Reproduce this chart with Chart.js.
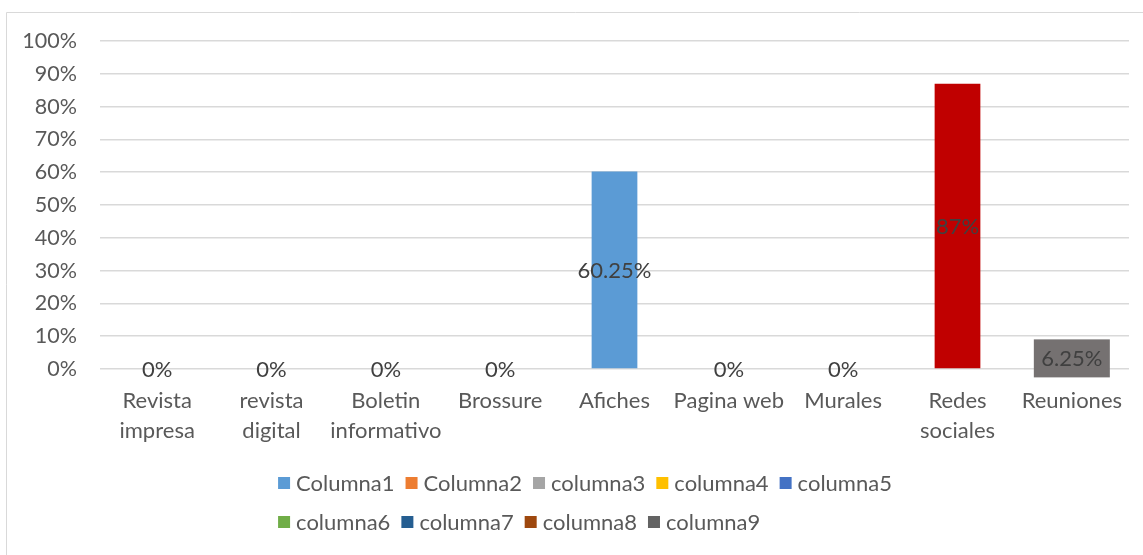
<!DOCTYPE html>
<html>
<head>
<meta charset="utf-8">
<script src="https://cdn.jsdelivr.net/npm/chart.js@4.4.0/dist/chart.umd.min.js"></script>
<style>
  html, body { margin: 0; padding: 0; background: #fff; }
  #wrap { width: 1143px; height: 555px; }
</style>
</head>
<body>
<div id="wrap"><canvas id="myChart" width="1143" height="555"></canvas></div>
<script>
// datos del grafico
const categories = [['Revista', 'impresa'], ['revista', 'digital'], ['Boletin', 'informativo'], 'Brossure', 'Afiches', 'Pagina web', 'Murales', ['Redes', 'sociales'], 'Reuniones'];
const values = [0, 0, 0, 0, 60.25, 0, 0, 87, 6.25];
const valueLabels = ['0%', '0%', '0%', '0%', '60.25%', '0%', '0%', '87%', '6.25%'];
const barColors = ['#5B9BD5', '#ED7D31', '#A5A5A5', '#FFC000', '#5B9BD5', '#70AD47', '#255E91', '#C00000', '#636363'];
const labelBoxColors = [null, null, null, null, null, null, null, null, '#757171'];
const seriesNames = ['Columna1', 'Columna2', 'columna3', 'columna4', 'columna5', 'columna6', 'columna7', 'columna8', 'columna9'];
const seriesColors = ['#5B9BD5', '#ED7D31', '#A5A5A5', '#FFC000', '#4472C4', '#70AD47', '#255E91', '#9E480E', '#636363'];
const yTickValues = [0, 10, 20, 30, 40, 50, 60, 70, 80, 90, 100];

const FONT = 'Lato, "Open Sans", sans-serif';
const FONT_SIZE = 22;
Chart.defaults.font.family = FONT;
Chart.defaults.font.size = FONT_SIZE;
Chart.defaults.color = '#595959';

// marco gris alrededor del grafico
const framePlugin = {
  id: 'frame',
  beforeDraw(chart) {
    const ctx = chart.ctx;
    ctx.save();
    ctx.fillStyle = '#fff';
    ctx.fillRect(0, 0, chart.width, chart.height);
    ctx.strokeStyle = '#d9d9d9';
    ctx.lineWidth = 1;
    ctx.beginPath();
    ctx.moveTo(6.5, chart.height + 2);
    ctx.lineTo(6.5, 12.5);
    ctx.lineTo(chart.width + 2, 12.5);
    ctx.stroke();
    ctx.restore();
  }
};

// etiquetas de datos en el centro de cada barra
const dataLabelPlugin = {
  id: 'dataLabels',
  afterDatasetsDraw(chart) {
    const ctx = chart.ctx;
    const meta = chart.getDatasetMeta(0);
    ctx.save();
    ctx.font = FONT_SIZE + 'px ' + FONT;
    ctx.textAlign = 'center';
    ctx.textBaseline = 'middle';
    meta.data.forEach((bar, i) => {
      const y = (bar.y + bar.base) / 2;
      if (labelBoxColors[i]) {
        ctx.fillStyle = labelBoxColors[i];
        ctx.fillRect(bar.x - 38, y - 19, 76, 38);
      }
      ctx.fillStyle = '#404040';
      ctx.fillText(valueLabels[i], bar.x, y + 1);
    });
    ctx.restore();
  }
};

// leyenda (dos filas alineadas a la izquierda como en Excel)
const legendPlugin = {
  id: 'customLegend',
  afterDraw(chart) {
    const ctx = chart.ctx;
    ctx.save();
    ctx.font = FONT_SIZE + 'px ' + FONT;
    ctx.textBaseline = 'middle';
    const box = 12, gapText = 6, gapItem = 11;
    const rows = [seriesNames.slice(0, 5), seriesNames.slice(5)];
    const widths = seriesNames.map(n => box + gapText + ctx.measureText(n).width);
    const row1 = widths.slice(0, 5).reduce((a, b) => a + b, 0) + gapItem * 4;
    const startX = 585 - row1 / 2;
    const rowY = [483, 522];
    let idx = 0;
    rows.forEach((row, r) => {
      let x = startX;
      row.forEach(name => {
        ctx.fillStyle = seriesColors[idx];
        ctx.fillRect(x, rowY[r] - box / 2, box, box);
        ctx.fillStyle = '#595959';
        ctx.fillText(name, x + box + gapText, rowY[r] + 1);
        x += widths[idx] + gapItem;
        idx++;
      });
    });
    ctx.restore();
  }
};

const ctx = document.getElementById('myChart').getContext('2d');
const myChart = new Chart(ctx, {
  type: 'bar',
  data: {
    labels: categories,
    datasets: [{
      label: 'Porcentaje',
      data: values,
      backgroundColor: barColors,
      barPercentage: 0.4,
      categoryPercentage: 1
    }]
  },
  options: {
    responsive: false,
    animation: false,
    layout: { padding: { top: 41, right: 14, bottom: 0, left: 0 } },
    plugins: {
      legend: { display: false },
      tooltip: { enabled: false }
    },
    scales: {
      x: {
        grid: { display: false },
        border: { display: false },
        ticks: {
          padding: 9,
          maxRotation: 0,
          autoSkip: false,
          font: { size: FONT_SIZE, lineHeight: 30 / FONT_SIZE },
          color: '#595959'
        },
        afterFit(scale) { scale.height = 555 - 369; }
      },
      y: {
        min: 0,
        max: 100,
        afterBuildTicks(scale) { scale.ticks = yTickValues.map(v => ({ value: v })); },
        grid: { color: '#d9d9d9', lineWidth: 1.5, drawTicks: false },
        border: { display: false },
        ticks: {
          padding: 23,
          color: '#595959',
          font: { size: 21.5 },
          callback: v => v + '%'
        },
        afterFit(scale) { scale.width = 100; }
      }
    }
  },
  plugins: [framePlugin, dataLabelPlugin, legendPlugin]
});
</script>
</body>
</html>
